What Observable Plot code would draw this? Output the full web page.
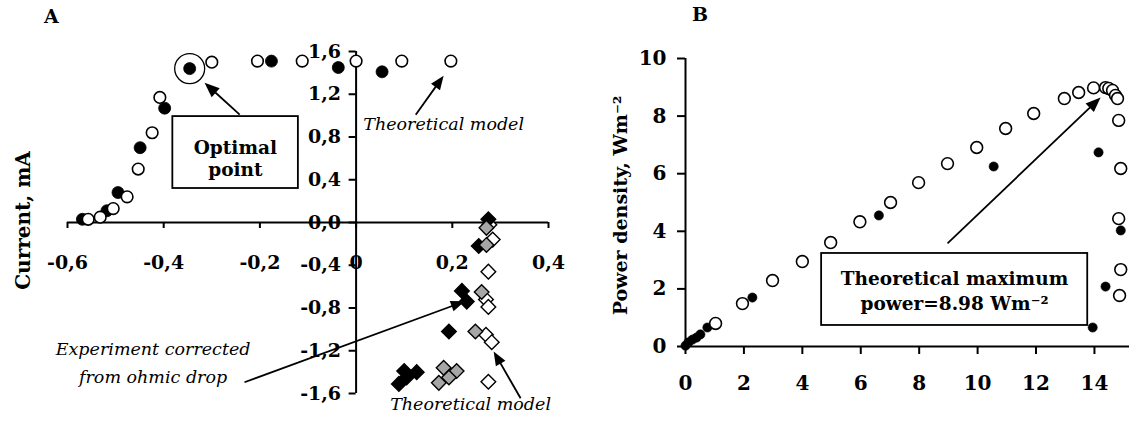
<!DOCTYPE html>
<html><head><meta charset="utf-8">
<script src="https://cdn.jsdelivr.net/npm/d3@7"></script>
<script src="https://cdn.jsdelivr.net/npm/@observablehq/plot@0.6"></script>
<style>
body{margin:0;background:#fff;}
#wrap{position:relative;width:1129px;height:422px;overflow:hidden;background:#fff;}
.panel{position:absolute;top:0;}
.lbl{position:absolute;font:bold 19px "DejaVu Serif";color:#000;}
</style></head><body>
<div id="wrap">
  <div class="lbl" style="left:44px;top:5px">A</div>
  <div class="lbl" style="left:692px;top:3px">B</div>
  <div id="pa" class="panel" style="left:0px"></div>
  <div id="pb" class="panel" style="left:600px"></div>
</div>
<script>
// ---------- Panel A data ----------
const aXTicks = [-0.6, -0.4, -0.2, 0, 0.2, 0.4];
const aXTickLabels = ["-0,6", "-0,4", "-0,2", "0", "0,2", "0,4"];
const aYTicks = [1.6, 1.2, 0.8, 0.4, 0, -0.4, -0.8, -1.2, -1.6];
const aYTickLabels = ["1,6", "1,2", "0,8", "0,4", "0,0", "-0,4", "-0,8", "-1,2", "-1,6"];

// experiment (filled circles)
const aExpX = [-0.569, -0.518, -0.495, -0.449, -0.398, -0.346, -0.176, -0.037, 0.054];
const aExpY = [0.03, 0.11, 0.28, 0.70, 1.07, 1.44, 1.51, 1.45, 1.41];
const aOptimalIndex = 5;
// theoretical model (open circles)
const aTheoX = [-0.557, -0.532, -0.505, -0.476, -0.453, -0.424, -0.408, -0.300, -0.205, -0.112, 0.0, 0.095, 0.197];
const aTheoY = [0.03, 0.05, 0.13, 0.24, 0.50, 0.84, 1.17, 1.50, 1.51, 1.51, 1.51, 1.51, 1.51];
// experiment (black diamonds)
const aDiaExpX = [0.275, 0.255, 0.220, 0.230, 0.193, 0.100, 0.126, 0.105, 0.089];
const aDiaExpY = [0.03, -0.22, -0.64, -0.74, -1.02, -1.39, -1.40, -1.45, -1.51];
// experiment corrected from ohmic drop (grey diamonds)
const aDiaCorX = [0.271, 0.271, 0.261, 0.248, 0.182, 0.209, 0.193, 0.172];
const aDiaCorY = [-0.05, -0.21, -0.65, -1.02, -1.36, -1.39, -1.45, -1.50];
// theoretical model (white diamonds)
const aDiaTheoX = [0.277, 0.284, 0.275, 0.270, 0.275, 0.270, 0.282, 0.275];
const aDiaTheoY = [-0.02, -0.16, -0.46, -0.72, -0.79, -1.05, -1.12, -1.49];

// ---------- Panel B data ----------
const bXTicks = [0, 2, 4, 6, 8, 10, 12, 14];
const bYTicks = [0, 2, 4, 6, 8, 10];
const bExpX = [0, 0.10, 0.24, 0.38, 0.51, 0.75, 2.29, 6.62, 10.55, 13.94, 14.14, 14.38, 14.90];
const bExpY = [0.03, 0.14, 0.24, 0.31, 0.42, 0.66, 1.70, 4.55, 6.25, 0.66, 6.74, 2.08, 4.03];
const bTheoX = [1.03, 1.95, 2.98, 4.00, 4.97, 5.97, 7.02, 7.98, 8.97, 9.97, 10.96, 11.92, 12.97, 13.46, 13.97, 14.38, 14.49, 14.62, 14.72, 14.79, 14.83, 14.90, 14.83, 14.90, 14.86];
const bTheoY = [0.80, 1.49, 2.29, 2.95, 3.61, 4.33, 5.00, 5.69, 6.35, 6.91, 7.57, 8.09, 8.61, 8.82, 8.98, 8.99, 8.96, 8.89, 8.72, 8.61, 7.85, 6.18, 4.44, 2.67, 1.77];

// ---------- helpers ----------
const zip = (xs, ys) => xs.map((x, i) => ({x, y: ys[i]}));
const SERIF = "DejaVu Serif";

function arrow(a, sx, sy, headLen = 14, headHalf = 5.5, width = 1.8) {
  const px1 = sx(a.x1), py1 = sy(a.y1), px2 = sx(a.x2), py2 = sy(a.y2);
  const L = Math.hypot(px2 - px1, py2 - py1);
  const ux = (px2 - px1) / L, uy = (py2 - py1) / L;
  const end = {x: sx.invert(px2 - ux * headLen * 0.7), y: sy.invert(py2 - uy * headLen * 0.7)};
  const head = {
    draw(ctx) {
      const bx = -ux * headLen, by = -uy * headLen;
      ctx.moveTo(0, 0);
      ctx.lineTo(bx - uy * headHalf, by + ux * headHalf);
      ctx.lineTo(bx + uy * headHalf, by - ux * headHalf);
      ctx.closePath();
    }
  };
  return [
    Plot.link([{x1: a.x1, y1: a.y1, x2: end.x, y2: end.y}], {x1: "x1", y1: "y1", x2: "x2", y2: "y2", stroke: "black", strokeWidth: width}),
    Plot.dot([{x: a.x2, y: a.y2}], {x: "x", y: "y", symbol: head, fill: "black", stroke: "none", r: 5})
  ];
}

// ---------- Panel A ----------
{
  const W = 600, H = 422, mL = 67, mR = 52, mT = 51, mB = 29;
  const xd = [-0.6, 0.4], yd = [-1.6, 1.6];
  const sx = d3.scaleLinear(xd, [mL, W - mR]);
  const sy = d3.scaleLinear(yd, [H - mB, mT]);
  const txt = {fontFamily: SERIF, fill: "black"};
  const optimal = {x: aExpX[aOptimalIndex], y: aExpY[aOptimalIndex]};

  const plot = Plot.plot({
    width: W, height: H, marginLeft: mL, marginRight: mR, marginTop: mT, marginBottom: mB,
    x: {domain: xd, axis: null}, y: {domain: yd, axis: null},
    style: {background: "transparent", overflow: "visible"},
    marks: [
      Plot.text(aXTicks, {x: d => d, y: 0, text: (d, i) => aXTickLabels[i], dy: 40, fontSize: 19, fontWeight: "bold", ...txt}),
      Plot.text(aYTicks, {x: 0, y: d => d, text: (d, i) => aYTickLabels[i], dx: -15, textAnchor: "end", fontSize: 19, fontWeight: "bold", ...txt}),
      Plot.text(["Current, mA"], {frameAnchor: "left", textAnchor: "middle", dx: -44, dy: -2, rotate: -90, fontSize: 20, fontWeight: "bold", ...txt}),
      Plot.ruleY([0], {stroke: "black", strokeWidth: 2}),
      Plot.ruleX([0], {stroke: "black", strokeWidth: 2}),
      Plot.ruleX(aXTicks, {x: d => d, y1: 0, y2: -0.056, stroke: "black", strokeWidth: 2}),
      Plot.ruleY(aYTicks, {y: d => d, x1: 0, x2: -0.0145, stroke: "black", strokeWidth: 2}),
      // circles
      Plot.dot(zip(aExpX, aExpY), {x: "x", y: "y", r: 6, fill: "black", stroke: "black", strokeWidth: 0.8}),
      Plot.dot(zip(aTheoX, aTheoY), {x: "x", y: "y", r: 5.8, fill: "white", stroke: "black", strokeWidth: 1.6}),
      Plot.dot([optimal], {x: "x", y: "y", r: 15, fill: "none", stroke: "black", strokeWidth: 1.3}),
      // diamonds
      Plot.dot(zip(aDiaTheoX, aDiaTheoY), {x: "x", y: "y", symbol: "diamond2", r: 6.6, fill: "white", stroke: "black", strokeWidth: 1.4}),
      Plot.dot(zip(aDiaExpX, aDiaExpY), {x: "x", y: "y", symbol: "diamond2", r: 6.6, fill: "black", stroke: "black", strokeWidth: 1.4}),
      Plot.dot(zip(aDiaCorX, aDiaCorY), {x: "x", y: "y", symbol: "diamond2", r: 6.6, fill: "#a6a6a6", stroke: "black", strokeWidth: 1.4}),
      // annotations
      Plot.rect([{x1: -0.381, x2: -0.120, y1: 0.318, y2: 0.991}], {x1: "x1", x2: "x2", y1: "y1", y2: "y2", fill: "white", stroke: "black", strokeWidth: 1.8}),
      Plot.text(["Optimal", "point"], {x: -0.251, y: (d, i) => [0.70, 0.49][i], fontSize: 18.5, fontWeight: "bold", ...txt}),
      ...arrow({x1: -0.242, y1: 1.009, x2: -0.315, y2: 1.308}, sx, sy, 15, 6),
      Plot.text(["Theoretical model"], {x: 0.182, y: 0.916, fontSize: 17.5, fontStyle: "italic", ...txt}),
      ...arrow({x1: 0.124, y1: 1.009, x2: 0.182, y2: 1.374}, sx, sy, 14, 5.5),
      Plot.text(["Experiment corrected", "from ohmic drop"], {x: -0.422, y: (d, i) => [-1.19, -1.45][i], fontSize: 17.5, fontStyle: "italic", ...txt}),
      ...arrow({x1: -0.232, y1: -1.495, x2: 0.226, y2: -0.738}, sx, sy, 14, 5.5),
      Plot.text(["Theoretical model"], {x: 0.238, y: -1.70, fontSize: 17.5, fontStyle: "italic", ...txt}),
      ...arrow({x1: 0.342, y1: -1.645, x2: 0.286, y2: -1.206}, sx, sy, 14, 5.5)
    ]
  });
  document.getElementById("pa").appendChild(plot);
}

// ---------- Panel B ----------
{
  const W = 529, H = 422, mL = 85, mR = 0, mT = 58, mB = 76;
  const xd = [0, 15.2], yd = [0, 10];
  const sx = d3.scaleLinear(xd, [mL, W - mR]);
  const sy = d3.scaleLinear(yd, [H - mB, mT]);
  const txt = {fontFamily: SERIF, fill: "black"};

  const plot = Plot.plot({
    width: W, height: H, marginLeft: mL, marginRight: mR, marginTop: mT, marginBottom: mB,
    x: {domain: xd, axis: null}, y: {domain: yd, axis: null},
    style: {background: "transparent", overflow: "visible"},
    marks: [
      Plot.text(bXTicks, {x: d => d, y: 0, text: d => String(d), dy: 37, fontSize: 20, fontWeight: "bold", ...txt}),
      Plot.text(bYTicks, {x: 0, y: d => d, text: d => String(d), dx: -19, textAnchor: "end", fontSize: 20, fontWeight: "bold", ...txt}),
      Plot.text(["Power density, Wm\u207B\u00B2"], {frameAnchor: "left", textAnchor: "middle", dx: -65, dy: 3, rotate: -90, fontSize: 19, fontWeight: "bold", ...txt}),
      Plot.ruleY([0], {stroke: "black", strokeWidth: 2}),
      Plot.ruleX([0], {stroke: "black", strokeWidth: 2}),
      Plot.ruleX(bXTicks, {x: d => d, y1: 0, y2: -0.278, stroke: "black", strokeWidth: 2}),
      Plot.ruleY(bYTicks, {y: d => d, x1: 0, x2: -0.274, stroke: "black", strokeWidth: 2}),
      Plot.dot(zip(bExpX, bExpY), {x: "x", y: "y", r: 4.6, fill: "black", stroke: "black", strokeWidth: 0.6}),
      Plot.dot(zip(bTheoX, bTheoY), {x: "x", y: "y", r: 5.9, fill: "white", stroke: "black", strokeWidth: 1.6}),
      Plot.rect([{x1: 4.66, x2: 13.77, y1: 0.73, y2: 3.23}], {x1: "x1", x2: "x2", y1: "y1", y2: "y2", fill: "white", stroke: "black", strokeWidth: 1.8}),
      Plot.text(["Theoretical maximum", "power=8.98 Wm\u207B\u00B2"], {x: 9.21, y: (d, i) => [2.33, 1.49][i], fontSize: 18.5, fontWeight: "bold", ...txt}),
      ...arrow({x1: 8.97, y1: 3.58, x2: 14.21, y2: 8.65}, sx, sy, 15, 6)
    ]
  });
  document.getElementById("pb").appendChild(plot);
}
</script>
</body></html>
